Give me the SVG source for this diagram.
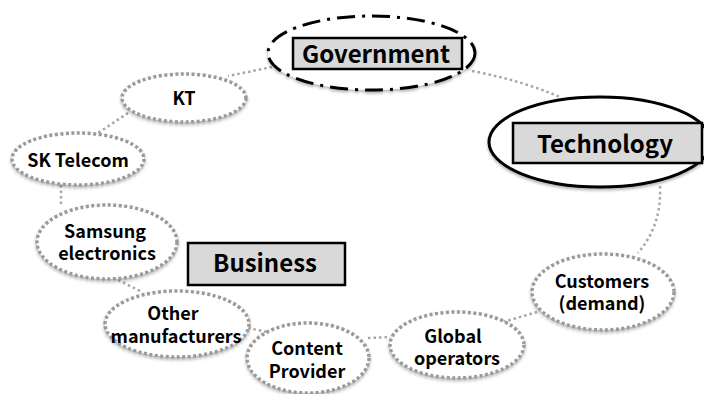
<svg xmlns="http://www.w3.org/2000/svg" width="704" height="394" viewBox="0 0 704 394">
<defs>
<filter id="sh" x="-20%" y="-20%" width="140%" height="150%">
<feDropShadow dx="0" dy="2" stdDeviation="1.5" flood-color="#000" flood-opacity="0.3"/>
</filter>
</defs>
<style>
.n{fill:#fff;stroke:#9a9a9a;stroke-width:3.5;stroke-dasharray:3 2.5;filter:url(#sh)}
.c{fill:none;stroke:#a6a6a6;stroke-width:2.5;stroke-dasharray:2.5 3}
.t{font-family:"Noto Sans CJK KR","Noto Sans",sans-serif;font-weight:bold;font-size:18px;fill:#000;text-anchor:middle}
.big{font-size:24px}
.box{fill:#d9d9d9;stroke:#000;stroke-width:2.5}
</style>
<rect width="704" height="394" fill="#fff"/>
<g id="connectors">
<path class="c" d="M272,67 L228,76"/>
<path class="c" d="M472,71 Q520,80 560,97"/>
<path class="c" d="M128,113 L98,133"/>
<path class="c" d="M61,185 L61,205"/>
<path class="c" d="M118,280 L142,292"/>
<path class="c" d="M248,328 L267,332"/>
<path class="c" d="M368,338 L390,337"/>
<path class="c" d="M503,322 L537,312"/>
<path class="c" d="M660,186 Q662,225 638,253"/>
</g>
<g id="government">
<ellipse cx="371.5" cy="53" rx="103.5" ry="37" fill="#fff" stroke="#000" stroke-width="3" stroke-dasharray="18 7 3 7" filter="url(#sh)"/>
<rect class="box" x="293" y="38" width="169" height="31"/>
<text class="t big" x="376" y="63">Government</text>
</g>
<g id="technology">
<ellipse cx="600" cy="142" rx="111" ry="45" fill="#fff" stroke="#000" stroke-width="3" filter="url(#sh)"/>
<rect class="box" x="513" y="123" width="189" height="40"/>
<text class="t big" x="605" y="153">Technology</text>
</g>
<g id="business">
<rect class="box" x="188" y="243" width="157" height="42"/>
<text class="t big" x="265" y="272">Business</text>
</g>
<g id="kt">
<ellipse class="n" cx="184" cy="98" rx="62" ry="24"/>
<text class="t" x="184" y="105">KT</text>
</g>
<g id="sktelecom">
<ellipse class="n" cx="78" cy="159" rx="66" ry="26"/>
<text class="t" x="78" y="167">SK Telecom</text>
</g>
<g id="samsung">
<ellipse class="n" cx="107" cy="242" rx="70" ry="37"/>
<text class="t" x="105" y="238">Samsung</text>
<text class="t" x="107" y="260">electronics</text>
</g>
<g id="othermanufacturers">
<ellipse class="n" cx="177" cy="324" rx="72" ry="33"/>
<text class="t" x="173" y="320">Other</text>
<text class="t" x="176" y="343">manufacturers</text>
</g>
<g id="contentprovider">
<ellipse class="n" cx="308" cy="358" rx="61" ry="35"/>
<text class="t" x="307" y="355">Content</text>
<text class="t" x="307" y="378">Provider</text>
</g>
<g id="globaloperators">
<ellipse class="n" cx="457" cy="345" rx="67" ry="33"/>
<text class="t" x="453" y="343">Global</text>
<text class="t" x="457" y="365">operators</text>
</g>
<g id="customers">
<ellipse class="n" cx="603" cy="292" rx="71" ry="38"/>
<text class="t" x="602" y="288">Customers</text>
<text class="t" x="602" y="310">(demand)</text>
</g>
</svg>
